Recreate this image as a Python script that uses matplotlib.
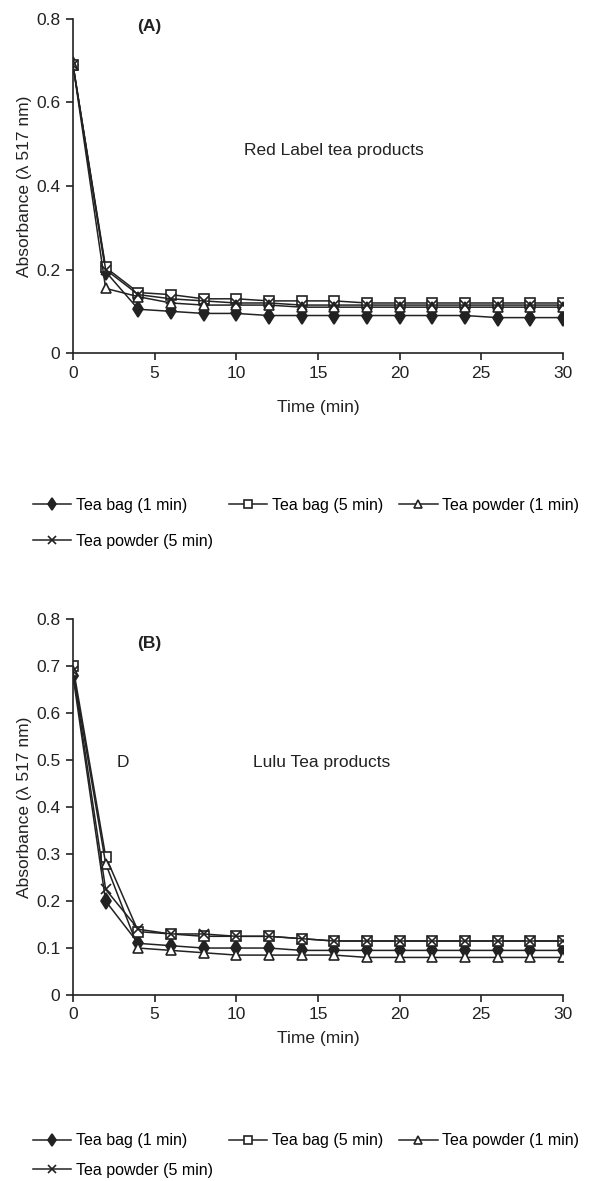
import matplotlib
matplotlib.use("Agg")
import matplotlib.pyplot as plt

plt.rcParams['font.family'] = ['Liberation Sans', 'DejaVu Sans']

time = [0, 2, 4, 6, 8, 10, 12, 14, 16, 18, 20, 22, 24, 26, 28, 30]
labels = ["Tea bag (1 min)", "Tea bag (5 min)", "Tea powder (1 min)", "Tea powder (5 min)"]

# Panel A: Red Label tea products
a_tb1 = [0.69, 0.195, 0.105, 0.100, 0.095, 0.095, 0.090, 0.090, 0.090, 0.090, 0.090, 0.090, 0.090, 0.085, 0.085, 0.085]
a_tb5 = [0.69, 0.205, 0.145, 0.140, 0.130, 0.130, 0.125, 0.125, 0.125, 0.120, 0.120, 0.120, 0.120, 0.120, 0.120, 0.120]
a_tp1 = [0.69, 0.155, 0.135, 0.120, 0.115, 0.115, 0.115, 0.110, 0.110, 0.110, 0.110, 0.110, 0.110, 0.110, 0.110, 0.110]
a_tp5 = [0.69, 0.200, 0.140, 0.130, 0.125, 0.120, 0.120, 0.115, 0.115, 0.115, 0.115, 0.115, 0.115, 0.115, 0.115, 0.115]

# Panel B: Lulu tea products
b_tb1 = [0.68, 0.200, 0.110, 0.105, 0.100, 0.100, 0.100, 0.095, 0.095, 0.095, 0.095, 0.095, 0.095, 0.095, 0.095, 0.095]
b_tb5 = [0.70, 0.295, 0.135, 0.130, 0.125, 0.125, 0.125, 0.120, 0.115, 0.115, 0.115, 0.115, 0.115, 0.115, 0.115, 0.115]
b_tp1 = [0.69, 0.280, 0.100, 0.095, 0.090, 0.085, 0.085, 0.085, 0.085, 0.080, 0.080, 0.080, 0.080, 0.080, 0.080, 0.080]
b_tp5 = [0.69, 0.225, 0.140, 0.130, 0.130, 0.125, 0.125, 0.120, 0.115, 0.115, 0.115, 0.115, 0.115, 0.115, 0.115, 0.115]

ink = '#222222'
styles = [
    dict(marker='d', markerfacecolor=ink, markeredgecolor=ink, markersize=8),
    dict(marker='s', markerfacecolor='white', markeredgecolor=ink, markersize=7),
    dict(marker='^', markerfacecolor='white', markeredgecolor=ink, markersize=7),
    dict(marker='x', markerfacecolor='none', markeredgecolor=ink, markersize=7),
]

fs = 12.5
fig = plt.figure(figsize=(5.91, 11.81), dpi=100)

def panel(rect, series, yticks, yticklabels, tag, tagpos, title, titlepos, xlabpad, extra=None):
    ax = fig.add_axes(rect)
    handles = []
    for s, st in zip(series, styles):
        h, = ax.plot(time, s, color=ink, lw=1.1, markeredgewidth=1.2, **st)
        handles.append(h)
    ax.set_xlim(0, 30)
    ax.set_ylim(0, 0.8)
    ax.set_xticks([0, 5, 10, 15, 20, 25, 30])
    ax.set_yticks(yticks)
    ax.set_yticklabels(yticklabels)
    for sp in ['top', 'right']:
        ax.spines[sp].set_visible(False)
    for sp in ['left', 'bottom']:
        ax.spines[sp].set_linewidth(1.2)
        ax.spines[sp].set_color(ink)
    ax.tick_params(direction='out', length=5, width=1.2, labelsize=fs, colors=ink, pad=4)
    ax.set_xlabel("Time (min)", fontsize=fs, color=ink, labelpad=xlabpad)
    ax.set_ylabel("Absorbance (\u03bb 517 nm)", fontsize=fs, color=ink, labelpad=3)
    ax.text(tagpos[0], tagpos[1], tag, fontsize=fs, fontweight='bold', color=ink)
    ax.text(titlepos[0], titlepos[1], title, fontsize=fs, color=ink)
    if extra:
        ax.text(extra[0], extra[1], extra[2], fontsize=fs, color=ink)
    return ax, handles

axA, hA = panel([0.1235, 0.701, 0.829, 0.283], [a_tb1, a_tb5, a_tp1, a_tp5],
                [0, 0.2, 0.4, 0.6, 0.8], ['0', '0.2', '0.4', '0.6', '0.8'],
                "(A)", (3.9, 0.77), "Red Label tea products", (10.5, 0.475), 14)
axB, hB = panel([0.1235, 0.1575, 0.829, 0.318], [b_tb1, b_tb5, b_tp1, b_tp5],
                [0, 0.1, 0.2, 0.3, 0.4, 0.5, 0.6, 0.7, 0.8],
                ['0', '0.1', '0.2', '0.3', '0.4', '0.5', '0.6', '0.7', '0.8'],
                "(B)", (3.9, 0.74), "Lulu Tea products", (11.0, 0.485), 6, extra=(2.7, 0.485, "D"))

order = [0, 3, 1, 2]
for handles, ytop, spacing in [(hA, 0.581, 1.3), (hB, 0.043, 0.9)]:
    fig.legend([handles[i] for i in order], [labels[i] for i in order],
               loc='upper left', bbox_to_anchor=(0.05, ytop), ncol=3, frameon=False,
               fontsize=11.5, handlelength=2.4, handletextpad=0.3, columnspacing=1.0,
               labelspacing=spacing, borderaxespad=0, borderpad=0.2, markerscale=0.75)

fig.savefig("out.png", dpi=100)
